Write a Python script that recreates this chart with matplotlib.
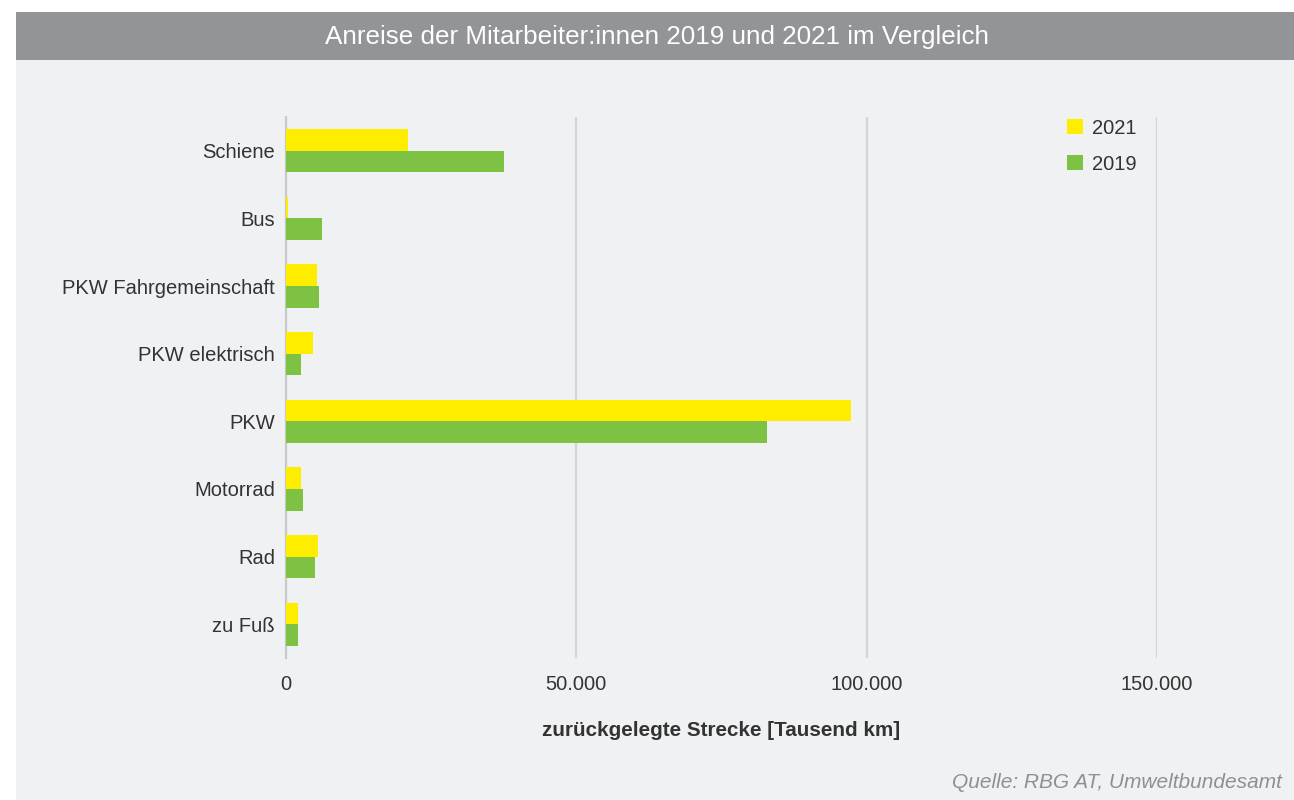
import numpy as np
import matplotlib.pyplot as plt
from matplotlib.patches import Rectangle

categories = ['Schiene', 'Bus', 'PKW Fahrgemeinschaft', 'PKW elektrisch',
              'PKW', 'Motorrad', 'Rad', 'zu Fuß']
values_2021 = [20950, 300, 5400, 4700, 97300, 2650, 5450, 2000]
values_2019 = [37550, 6150, 5750, 2650, 82800, 3000, 5050, 2000]
x_ticks = [0, 50000, 100000, 150000]
x_tick_labels = ['0', '50.000', '100.000', '150.000']

yellow = '#ffed00'
green = '#7dc242'
bg = '#f0f1f3'
text_color = '#333333'

plt.rcParams['font.family'] = ['Liberation Sans', 'DejaVu Sans']

W, H = 1294, 800
fig = plt.figure(figsize=(W / 100, H / 100), dpi=100)
fig.patch.set_facecolor('white')

# background panel and title bar
fig.patches.append(Rectangle((16 / W, 0), 1 - 16 / W, (H - 60) / H,
                             transform=fig.transFigure, facecolor=bg,
                             edgecolor='none', zorder=-2))
fig.patches.append(Rectangle((16 / W, (H - 60) / H), 1 - 16 / W, 48 / H,
                             transform=fig.transFigure, facecolor='#939497',
                             edgecolor='none', zorder=-2))
fig.text(657 / W, (H - 37) / H, 'Anreise der Mitarbeiter:innen 2019 und 2021 im Vergleich',
         ha='center', va='center', color='white', fontsize=18.7)

ax = fig.add_axes([286 / W, (H - 658) / H, (1157 - 286) / W, (658 - 117) / H])
ax.set_zorder(1)
ax.set_facecolor('none')

y = np.arange(len(categories))
h = 0.32
ax.barh(y - h / 2, values_2021, height=h, color=yellow, label='2021', zorder=3)
ax.barh(y + h / 2, values_2019, height=h, color=green, label='2019', zorder=3)

ax.set_ylim(len(categories) - 0.5, -0.5)
ax.set_xlim(0, 150000)
ax.set_yticks(y)
ax.set_yticklabels(categories)
ax.set_xticks(x_ticks)
ax.set_xticklabels(x_tick_labels)
ax.tick_params(axis='both', length=0, labelsize=14.5, labelcolor=text_color)
ax.tick_params(axis='y', pad=8)
ax.tick_params(axis='x', pad=12)

for xv in x_ticks[1:]:
    ax.axvline(xv, color='#d4d5d8', linewidth=1.6, zorder=1)
for s in ['top', 'right', 'bottom']:
    ax.spines[s].set_visible(False)
ax.spines['left'].set_color('#c8c9cc')
ax.spines['left'].set_linewidth(1.6)

ax.set_xlabel('zurückgelegte Strecke [Tausend km]', fontsize=14.9,
              fontweight='bold', color=text_color, labelpad=20)

leg = ax.legend(loc='upper left', bbox_to_anchor=((1059 - 286) / (1157 - 286), 1.012),
                frameon=False, fontsize=14.5, handlelength=0.8, handleheight=0.8,
                handletextpad=0.45, labelspacing=0.85, borderaxespad=0)
for t in leg.get_texts():
    t.set_color(text_color)

fig.text(1282 / W, (H - 783) / H, 'Quelle: RBG AT, Umweltbundesamt',
         ha='right', va='center', color='#8f9093', fontsize=15, style='italic')

fig.savefig('out.png', dpi=100, facecolor=fig.get_facecolor())
